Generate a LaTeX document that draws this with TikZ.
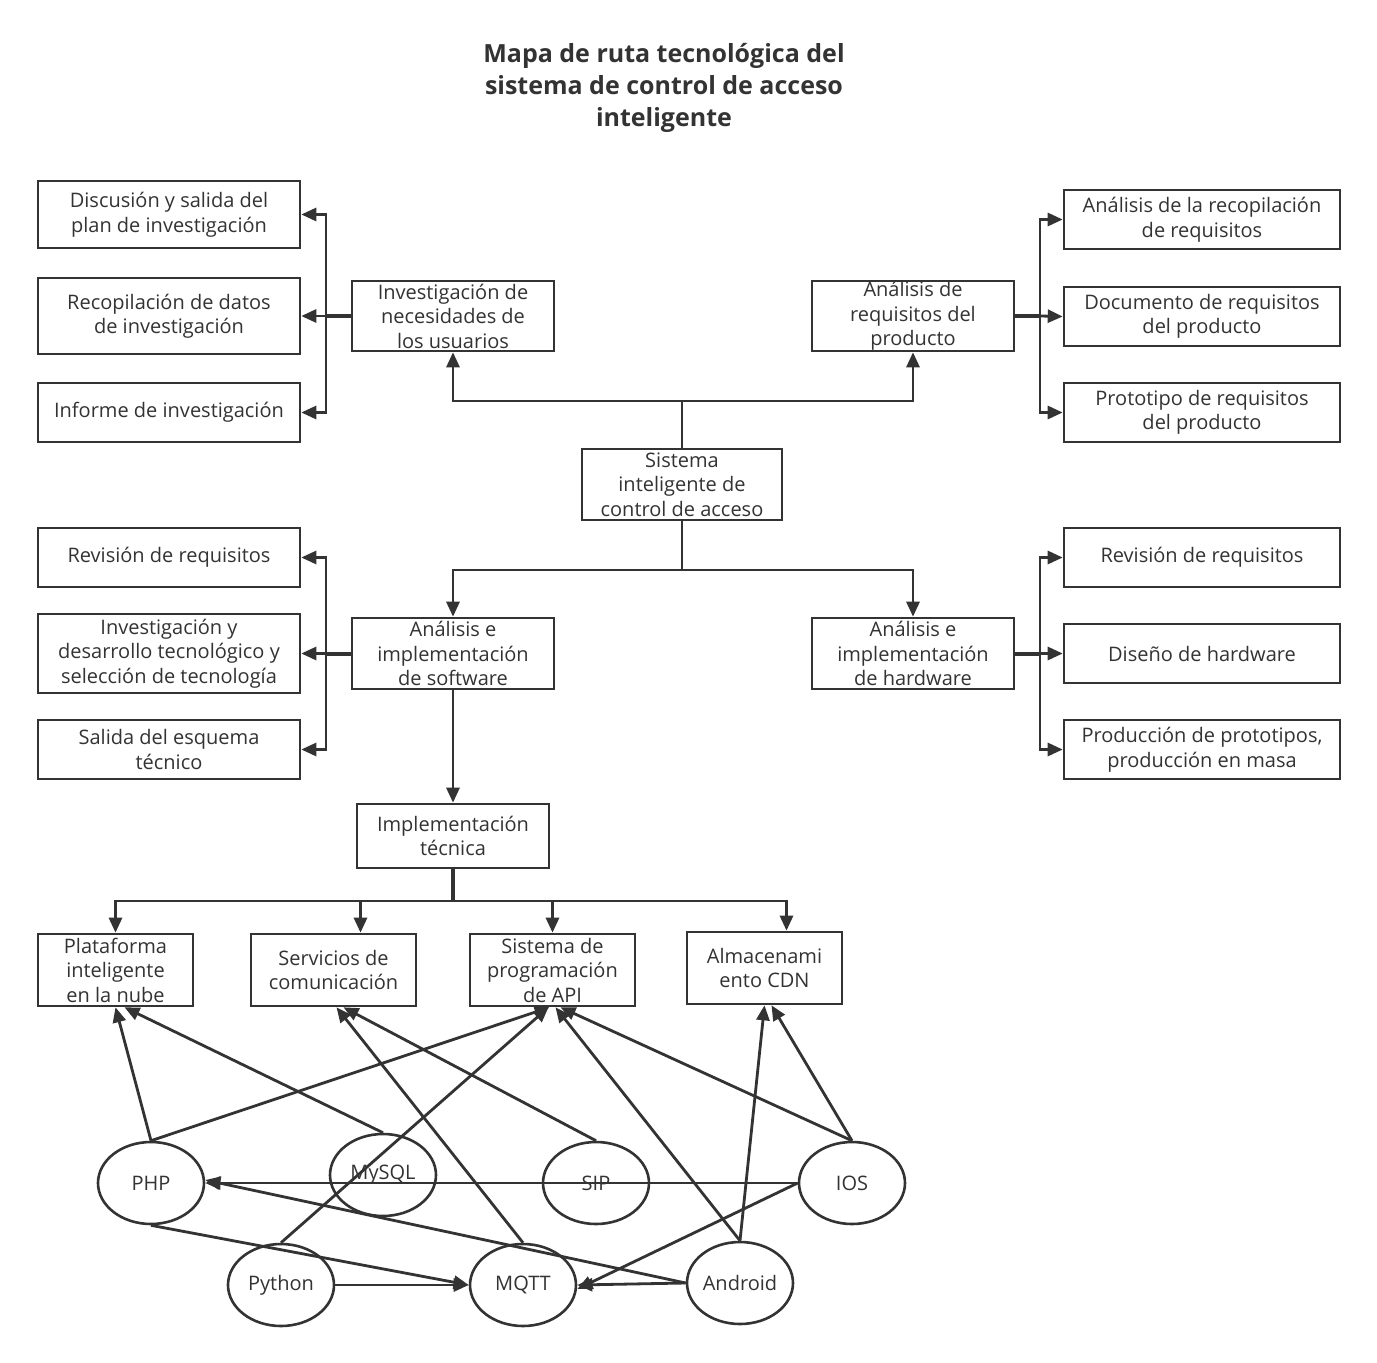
\documentclass[tikz,border=0pt]{standalone}
\usepackage{fontspec}
\setmainfont{Open Sans}
\usetikzlibrary{arrows.meta,shapes.geometric}
\definecolor{ink}{HTML}{333333}
\tikzset{
 box/.style={draw=ink, line width=2.6pt, text=ink, align=center, inner sep=0pt, font=\fontsize{20}{24.5}\selectfont},
 ell/.style={ellipse, draw=ink, line width=2.6pt, text=ink, minimum width=106pt, minimum height=82pt, inner sep=0pt, font=\fontsize{20}{24.5}\selectfont},
 con/.style={draw=ink, line width=2.8pt},
 arr/.style={con, -{Triangle[length=15pt,width=13pt]}},
 bus/.style={draw=ink, line width=4pt},
}
\begin{document}
\begin{tikzpicture}[x=1pt,y=-1pt]
\fill[white] (0,0) rectangle (1377,1363);
\useasboundingbox (0,0) rectangle (1377,1363);

\node[text=ink, align=center, font=\bfseries\fontsize{25}{32}\selectfont] (title) at (664,88) {Mapa de ruta tecnológica del\\sistema de control de acceso\\inteligente};

% top-left group
\node[box, minimum width=262pt, minimum height=67pt] (d1) at (169,214.5) {Discusión y salida del\\plan de investigación};
\node[box, minimum width=262pt, minimum height=76pt] (d2) at (169,316) {Recopilación de datos\\de investigación};
\node[box, minimum width=262pt, minimum height=59pt] (d3) at (169,412.5) {Informe de investigación};
\node[box, minimum width=202pt, minimum height=70pt] (inv) at (453,316) {Investigación de\\necesidades de\\los usuarios};

% top-right group
\node[box, minimum width=202pt, minimum height=70pt] (req) at (913,316) {Análisis de\\requisitos del\\producto};
\node[box, minimum width=276pt, minimum height=59pt] (r1) at (1202,219.5) {Análisis de la recopilación\\de requisitos};
\node[box, minimum width=276pt, minimum height=59pt] (r2) at (1202,316.5) {Documento de requisitos\\del producto};
\node[box, minimum width=276pt, minimum height=59pt] (r3) at (1202,412.5) {Prototipo de requisitos\\del producto};

% center
\node[box, minimum width=200pt, minimum height=71pt] (sys) at (682,484.5) {Sistema\\inteligente de\\control de acceso};

% middle-left group
\node[box, minimum width=262pt, minimum height=59pt] (s1) at (169,557.5) {Revisión de requisitos};
\node[box, minimum width=262pt, minimum height=79pt] (s2) at (169,653.5) {Investigación y\\desarrollo tecnológico y\\selección de tecnología};
\node[box, minimum width=262pt, minimum height=59pt] (s3) at (169,749.5) {Salida del esquema\\técnico};
\node[box, minimum width=202pt, minimum height=71pt] (sw) at (453,653.5) {Análisis e\\implementación\\de software};

% middle-right group
\node[box, minimum width=202pt, minimum height=71pt] (hw) at (913,653.5) {Análisis e\\implementación\\de hardware};
\node[box, minimum width=276pt, minimum height=59pt] (h1) at (1202,557.5) {Revisión de requisitos};
\node[box, minimum width=276pt, minimum height=59pt] (h2) at (1202,653.5) {Diseño de hardware};
\node[box, minimum width=276pt, minimum height=59pt] (h3) at (1202,749.5) {Producción de prototipos,\\producción en masa};

% implementation
\node[box, minimum width=192pt, minimum height=64pt] (impl) at (453,836) {Implementación\\técnica};
\node[box, minimum width=155pt, minimum height=72pt] (plat) at (115.5,970) {Plataforma\\inteligente\\en la nube};
\node[box, minimum width=165pt, minimum height=72pt] (serv) at (333.5,970) {Servicios de\\comunicación};
\node[box, minimum width=165pt, minimum height=72pt] (api) at (552.5,970) {Sistema de\\programación\\de API};
\node[box, minimum width=155pt, minimum height=72pt] (cdn) at (764.5,968) {Almacenami\\ento CDN};

% ellipses
\node[ell] (php) at (151,1183) {PHP};
\node[ell] (mysql) at (383,1175) {MySQL};
\node[ell] (sip) at (596,1183) {SIP};
\node[ell] (ios) at (852,1183) {IOS};
\node[ell] (py) at (281,1285) {Python};
\node[ell] (mqtt) at (523,1285) {MQTT};
\node[ell] (andr) at (740,1283) {Android};

% junctions
\coordinate (j1) at (682,401);
\coordinate (j2) at (682,570);
\coordinate (j3) at (453,901);
\coordinate (bl1) at (326,316);
\coordinate (br1) at (1040,316);
\coordinate (bl2) at (326,653.5);
\coordinate (br2) at (1040,653.5);

% top tree
\draw[con] (sys.north) -- (j1);
\draw[arr] (j1) -| (inv.south);
\draw[arr] (j1) -| (req.south);
\draw[bus] (inv.west) -- (bl1);
\draw[arr] (bl1) |- (d1.east);
\draw[arr] (bl1) -- (d2.east);
\draw[arr] (bl1) |- (d3.east);
\draw[bus] (req.east) -- (br1);
\draw[arr] (br1) |- (r1.west);
\draw[arr] (br1) -- (r2.west);
\draw[arr] (br1) |- (r3.west);

% middle tree
\draw[con] (sys.south) -- (j2);
\draw[arr] (j2) -| (sw.north);
\draw[arr] (j2) -| (hw.north);
\draw[bus] (sw.west) -- (bl2);
\draw[arr] (bl2) |- (s1.east);
\draw[arr] (bl2) -- (s2.east);
\draw[arr] (bl2) |- (s3.east);
\draw[bus] (hw.east) -- (br2);
\draw[arr] (br2) |- (h1.west);
\draw[arr] (br2) -- (h2.west);
\draw[arr] (br2) |- (h3.west);

% implementation tree
\draw[arr] (sw.south) -- (impl.north);
\draw[bus] (impl.south) -- (j3);
\draw[arr] (j3) -| (plat.north);
\draw[arr] (j3) -| ([xshift=27pt]serv.north);
\draw[arr] (j3) -| (api.north);
\draw[arr] (j3) -| ([xshift=22pt]cdn.north);

% technology links
\draw[arr] (php.north) -- (plat.south);
\draw[arr] (mysql.north) -- ([xshift=9pt]plat.south);
\draw[arr] (php.north) -- ([xshift=-3pt]api.south);
\draw[arr] (py.north) -- ([xshift=-4pt]api.south);
\draw[arr] (mqtt.north) -- ([xshift=3pt]serv.south);
\draw[arr] (sip.north) -- ([xshift=10pt]serv.south);
\draw[arr] (andr.north) -- ([xshift=3pt]api.south);
\draw[arr] (ios.north) -- ([xshift=8pt]api.south);
\draw[arr] (andr.north) -- (cdn.south);
\draw[arr] (ios.north) -- ([xshift=7pt]cdn.south);
\draw[arr] (ios.west) -- (php.east);
\draw[arr] (andr.west) -- ([yshift=3pt]php.east);
\draw[arr] (php.south) -- (mqtt.west);
\draw[arr] (py.east) -- (mqtt.west);
\draw[arr] (ios.west) -- ([yshift=-4pt]mqtt.east);
\draw[arr] (andr.west) -- (mqtt.east);
\end{tikzpicture}
\end{document}
